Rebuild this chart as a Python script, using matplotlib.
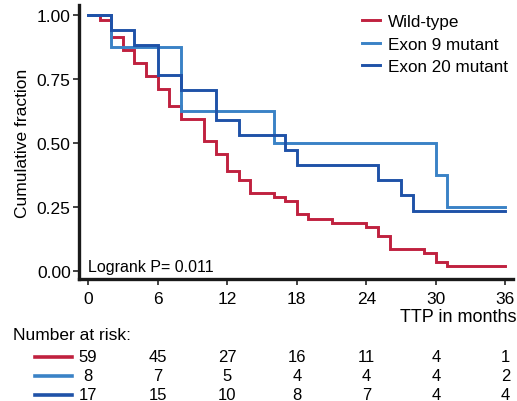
import matplotlib
matplotlib.use("Agg")
import matplotlib.pyplot as plt
from matplotlib.transforms import blended_transform_factory
from matplotlib.lines import Line2D

plt.rcParams['font.family'] = ['Liberation Sans', 'DejaVu Sans']

# Kaplan-Meier step data: event times (months) and survival after each event
wt_times = [0, 1, 2, 3, 4, 5, 6, 7, 8, 10, 11, 12, 13, 14, 16, 17, 18, 19, 21, 24, 25, 26, 29, 30, 31, 36]
wt_surv = [1.0, 0.983, 0.915, 0.864, 0.814, 0.763, 0.712, 0.644, 0.593, 0.508, 0.458, 0.390,
           0.356, 0.305, 0.288, 0.271, 0.220, 0.203, 0.186, 0.169, 0.136, 0.085, 0.068, 0.034, 0.017, 0.017]

ex9_times = [0, 2, 8, 16, 30, 31, 36]
ex9_surv = [1.0, 0.875, 0.625, 0.500, 0.375, 0.250, 0.250]

ex20_times = [0, 2, 4, 6, 8, 11, 13, 17, 18, 25, 27, 28, 36]
ex20_surv = [1.0, 0.941, 0.882, 0.765, 0.706, 0.588, 0.529, 0.471, 0.412, 0.353, 0.294, 0.235, 0.235]

groups = ["Wild-type", "Exon 9 mutant", "Exon 20 mutant"]
colors = ["#C0213F", "#3A82C6", "#1F52A8"]

risk_times = [0, 6, 12, 18, 24, 30, 36]
risk_wt = [59, 45, 27, 16, 11, 4, 1]
risk_ex9 = [8, 7, 5, 4, 4, 4, 2]
risk_ex20 = [17, 15, 10, 8, 7, 4, 4]

x_ticks = [0, 6, 12, 18, 24, 30, 36]
y_ticks = [0.0, 0.25, 0.5, 0.75, 1.0]
y_ticklabels = ["0.00", "0.25", "0.50", "0.75", "1.00"]

W, H = 517, 402
fig = plt.figure(figsize=(W / 100, H / 100), dpi=100)
ax = fig.add_axes([79 / W, 1 - 280 / H, (513 - 79) / W, (280 - 6) / H])

series = [(wt_times, wt_surv), (ex9_times, ex9_surv), (ex20_times, ex20_surv)]
for (t, s), c, name in zip(series, colors, groups):
    ax.step(t, s, where="post", color=c, lw=2.1, label=name, solid_joinstyle="miter")

ax.set_xlim(-0.78, 36.65)
ax.set_ylim(-0.033, 1.04)
ax.set_xticks(x_ticks)
ax.set_yticks(y_ticks)
ax.set_yticklabels(y_ticklabels)
ax.tick_params(axis="both", labelsize=12.5, length=4, width=1.2, color="#222222", pad=2)
ax.tick_params(axis="x", pad=5)
for side in ["top", "right"]:
    ax.spines[side].set_visible(False)
for side in ["left", "bottom"]:
    ax.spines[side].set_linewidth(2.4)
    ax.spines[side].set_color("#1a1a1a")

ax.set_ylabel("Cumulative fraction", fontsize=12.5, labelpad=5)
fig.text(517 / W, 1 - 318 / H, "TTP in months", fontsize=13, ha="right", va="center")

ax.text(0.0, 0.02, "Logrank P= 0.011", fontsize=11.5, ha="left", va="bottom",
        transform=blended_transform_factory(ax.transData, ax.transAxes))

leg = ax.legend(loc="upper right", bbox_to_anchor=(511 / W, 1 - 12 / H),
                bbox_transform=fig.transFigure, frameon=False, fontsize=12.3,
                handlelength=1.05, handletextpad=0.45, labelspacing=0.42, borderaxespad=0.0,
                borderpad=0.2)

# Number-at-risk table below the axis
fig.text(13 / W, 1 - 336 / H, "Number at risk:", fontsize=12.5, ha="left", va="center")
trans = blended_transform_factory(ax.transData, fig.transFigure)
row_y = [358, 377, 396]
for counts, c, yp in zip([risk_wt, risk_ex9, risk_ex20], colors, row_y):
    yf = 1 - yp / H
    fig.add_artist(Line2D([35 / W, 72 / W], [yf, yf], color=c, lw=2.6,
                          transform=fig.transFigure))
    for t, n in zip(risk_times, counts):
        fig.text(t, yf, str(n), fontsize=12, ha="center", va="center", transform=trans)

fig.savefig("out.png", dpi=100)
